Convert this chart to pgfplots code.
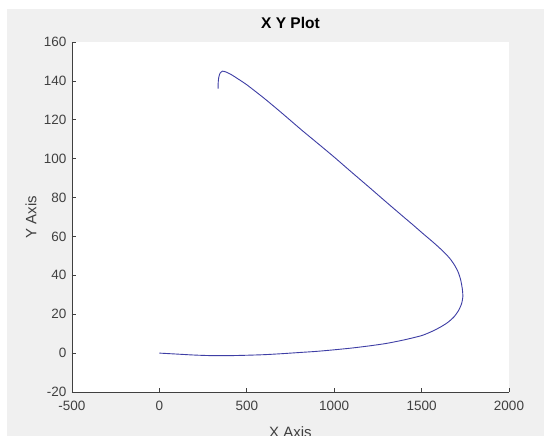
\documentclass[border=0pt]{standalone}
\usepackage{fontspec}
\setmainfont{Liberation Sans}
\usepackage{pgfplots}
\pgfplotsset{compat=1.18}
\definecolor{figbg}{HTML}{F0F0F0}
\definecolor{axcol}{HTML}{404040}
\definecolor{linecol}{RGB}{62,62,165}

\begin{document}
\begin{tikzpicture}
\clip (0,0) rectangle (544pt,436pt);
\fill[white] (0,0) rectangle (544pt,436pt);
\fill[figbg] (7pt,0) rectangle (544pt,427pt);
\begin{axis}[
  at={(72pt,44pt)}, anchor=south west,
  scale only axis, width=437pt, height=350pt,
  xmin=-500, xmax=2000, ymin=-20, ymax=160,
  axis lines*=left,
  axis line style={axcol, line width=0.6pt},
  axis background/.style={fill=white},
  tick align=inside,
  major tick length=4pt,
  tick style={axcol, line width=0.6pt},
  xtick={-500,0,500,1000,1500,2000},
  xticklabels={-500,0,500,1000,1500,2000},
  ytick={-20,0,20,40,60,80,100,120,140,160},
  yticklabels={-20,0,20,40,60,80,100,120,140,160},
  ticklabel style={font=\fontsize{13.5}{16}\selectfont, text=axcol},
  xticklabel shift=6pt,
  yticklabel shift=2pt,
  title={X Y Plot},
  title style={font=\bfseries\fontsize{15.5}{18}\selectfont, text=black,
    at={(axis description cs:0.5,1.036)}, anchor=center},
  xlabel={X Axis},
  ylabel={Y Axis},
  label style={font=\fontsize{15}{18}\selectfont, text=axcol},
  xlabel style={at={(axis description cs:0.5,-0.116)}, anchor=center},
  ylabel style={at={(axis description cs:-0.094,0.5)}, anchor=center},
]
\addplot[linecol, line width=0.9pt, smooth, tension=0.4] coordinates {
  (0,0) (100,-0.5) (200,-1.0) (300,-1.3) (400,-1.3) (500,-1.1)
  (600,-0.8) (700,-0.3) (800,0.3) (900,0.9) (1000,1.7) (1100,2.6)
  (1200,3.7) (1300,5.0) (1400,6.8) (1500,9.0) (1560,11.2) (1610,13.5)
  (1650,15.8) (1685,18.6) (1712,22) (1729,25.5) (1736,29) (1733,33)
  (1724,37.5) (1710,41.5) (1690,45) (1665,48.3) (1635,51.3) (1600,54.3)
  (1560,57.5) (1510,61.3) (1450,66) (1400,69.8) (1300,77.5) (1200,85.3)
  (1100,93) (1000,100.8) (900,108.3) (810,115) (700,123.5) (600,131)
  (500,138) (450,141) (410,143.3) (380,144.6) (360,145) (347,144)
  (339,141.5) (336,138.5) (336,136)
};
\end{axis}
\end{tikzpicture}
\end{document}
